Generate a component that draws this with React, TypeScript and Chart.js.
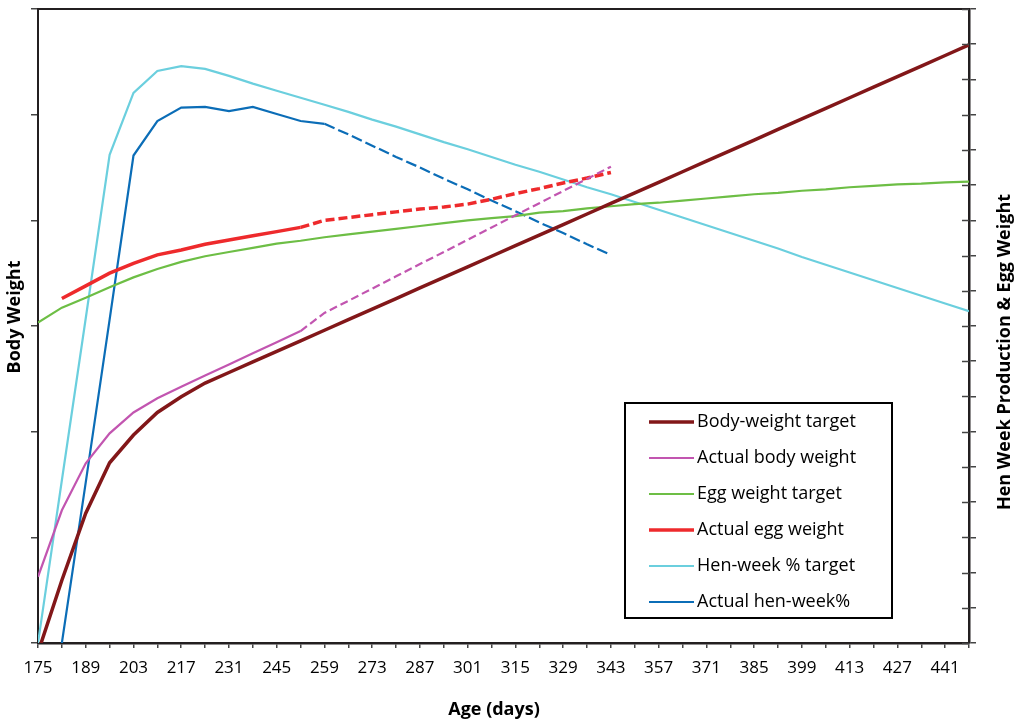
import React, { useEffect, useRef } from 'react';
import { Chart, registerables } from 'chart.js';

Chart.register(...registerables);

// Age in days (weekly)
const ages = [175, 182, 189, 196, 203, 210, 217, 224, 231, 238, 245, 252, 259, 266, 273, 280, 287, 294, 301, 308,
  315, 322, 329, 336, 343, 350, 357, 364, 371, 378, 385, 392, 399, 406, 413, 420, 427, 434, 441, 448];

// Left axis: body weight (g)
const bodyWeightTarget = [-45, 297, 614, 853, 984, 1091, 1165, 1230, 1280, 1330, 1380, 1430, 1480, 1530, 1580, 1630,
  1680, 1730, 1780, 1830, 1880, 1930, 1980, 2030, 2080, 2130, 2180, 2230, 2280, 2330, 2380, 2430, 2480, 2530, 2580,
  2630, 2680, 2730, 2780, 2830];
const actualBodyWeight = [313, 628, 850, 992, 1091, 1158, 1213, 1266, 1318, 1371, 1423, 1476, 1562, 1619, 1677, 1735,
  1793, 1850, 1908, 1966, 2024, 2081, 2139, 2196, 2254, null, null, null, null, null, null, null, null, null, null,
  null, null, null, null, null];

// Right axis: hen-week production (%) and egg weight (g)
const eggWeightTarget = [45.5, 47.6, 49.0, 50.5, 51.9, 53.1, 54.1, 54.9, 55.5, 56.1, 56.7, 57.1, 57.6, 58.0, 58.4,
  58.8, 59.2, 59.6, 60.0, 60.3, 60.6, 61.1, 61.3, 61.7, 62.0, 62.3, 62.5, 62.8, 63.1, 63.4, 63.7, 63.9, 64.2, 64.4,
  64.7, 64.9, 65.1, 65.2, 65.4, 65.5];
const actualEggWeight = [null, 48.9, 50.7, 52.5, 53.9, 55.1, 55.8, 56.6, 57.2, 57.8, 58.4, 59.0, 60.0, 60.4, 60.8,
  61.2, 61.6, 61.9, 62.3, 63.0, 63.8, 64.5, 65.3, 66.0, 66.8, null, null, null, null, null, null, null, null, null,
  null, null, null, null, null, null];
const henWeekTarget = [0, 23.1, 46.1, 69.3, 78.1, 81.2, 81.9, 81.5, 80.5, 79.4, 78.4, 77.4, 76.4, 75.4, 74.3, 73.3,
  72.2, 71.1, 70.1, 69.0, 67.9, 66.9, 65.8, 64.7, 63.7, 62.6, 61.5, 60.4, 59.3, 58.2, 57.1, 56.0, 54.8, 53.7, 52.6,
  51.5, 50.4, 49.3, 48.2, 47.1];
const actualHenWeek = [null, 0, 22.8, 45.9, 69.2, 74.1, 76.0, 76.1, 75.5, 76.1, 75.1, 74.1, 73.7, 72.2, 70.6, 69.0,
  67.5, 65.9, 64.4, 62.8, 61.3, 59.7, 58.2, 56.6, 55.1, null, null, null, null, null, null, null, null, null, null,
  null, null, null, null, null];

const seriesLabels = ['Body-weight target', 'Actual body weight', 'Egg weight target', 'Actual egg weight',
  'Hen-week % target', 'Actual hen-week%'];
const xTitle = 'Age (days)';
const yLeftTitle = 'Body Weight';
const yRightTitle = 'Hen Week Production & Egg Weight';

const FONT = "'Open Sans', 'Noto Sans', sans-serif";
const INK = '#231F20';

const decorPlugin = {
  id: 'decor',
  afterDraw(chart: any) {
    const ctx = chart.ctx as CanvasRenderingContext2D;
    const ca = chart.chartArea;
    ctx.save();
    // top frame line
    ctx.strokeStyle = INK;
    ctx.lineWidth = 2;
    ctx.beginPath();
    ctx.moveTo(ca.left - 1, ca.top);
    ctx.lineTo(ca.right + 1, ca.top);
    ctx.stroke();
    // inner tick halves on right axis
    const y2 = chart.scales.y2;
    ctx.lineWidth = 1.5;
    ctx.strokeStyle = '#444';
    y2.ticks.forEach((t: any) => {
      const py = Math.round(y2.getPixelForValue(t.value)) + 0.5;
      ctx.beginPath();
      ctx.moveTo(ca.right - 7, py);
      ctx.lineTo(ca.right, py);
      ctx.stroke();
    });
    // axis titles
    ctx.fillStyle = '#000';
    ctx.font = `bold 18px ${FONT}`;
    ctx.textAlign = 'center';
    ctx.textBaseline = 'middle';
    ctx.fillText(xTitle, 494, 710);
    ctx.save();
    ctx.translate(15, 317);
    ctx.rotate(-Math.PI / 2);
    ctx.fillText(yLeftTitle, 0, 0);
    ctx.restore();
    ctx.save();
    ctx.translate(1005, 352);
    ctx.rotate(-Math.PI / 2);
    ctx.fillText(yRightTitle, 0, 0);
    ctx.restore();
    // legend box
    const bx = 625, by = 403, bw = 267, bh = 215;
    ctx.fillStyle = '#fff';
    ctx.fillRect(bx, by, bw, bh);
    ctx.strokeStyle = '#000';
    ctx.lineWidth = 2;
    ctx.strokeRect(bx, by, bw, bh);
    ctx.font = `18px ${FONT}`;
    ctx.textAlign = 'left';
    chart.data.datasets.forEach((ds: any, i: number) => {
      const ry = 422 + i * 36;
      ctx.strokeStyle = ds.borderColor;
      ctx.lineWidth = ds.borderWidth;
      ctx.setLineDash([]);
      ctx.beginPath();
      ctx.moveTo(649, ry);
      ctx.lineTo(694, ry);
      ctx.stroke();
      ctx.fillStyle = '#000';
      ctx.fillText(ds.label, 697, ry);
    });
    ctx.restore();
  },
};

export default function App() {
  const ref = useRef<HTMLCanvasElement>(null);
  useEffect(() => {
    document.body.style.margin = '0';
    const pts = (vals: (number | null)[]) => ages.map((a, i) => ({ x: a, y: vals[i] }));
    const dashAfter = (from: number, dash: number[]) => (c: any) => (c.p0.parsed.x >= from ? dash : undefined);
    const chart = new Chart(ref.current as HTMLCanvasElement, {
      type: 'line',
      data: {
        datasets: [
          { label: seriesLabels[0], data: pts(bodyWeightTarget), borderColor: '#821719', borderWidth: 3.5, yAxisID: 'y', clip: 0 },
          { label: seriesLabels[1], data: pts(actualBodyWeight), borderColor: '#C255B0', borderWidth: 2.2, yAxisID: 'y',
            segment: { borderDash: dashAfter(252, [8, 4]) } },
          { label: seriesLabels[2], data: pts(eggWeightTarget), borderColor: '#6DBE45', borderWidth: 2.2, yAxisID: 'y2' },
          { label: seriesLabels[3], data: pts(actualEggWeight), borderColor: '#EE2A2C', borderWidth: 3.5, yAxisID: 'y2',
            segment: { borderDash: dashAfter(252, [9, 4]) } },
          { label: seriesLabels[4], data: pts(henWeekTarget), borderColor: '#6BCFDE', borderWidth: 2.2, yAxisID: 'y2', clip: 0 },
          { label: seriesLabels[5], data: pts(actualHenWeek), borderColor: '#0B6DB7', borderWidth: 2.2, yAxisID: 'y2', clip: 0,
            segment: { borderDash: dashAfter(259, [11, 4]) } },
        ] as any,
      },
      options: {
        responsive: false,
        animation: false,
        devicePixelRatio: 1,
        layout: { padding: { top: 9, left: 0, right: 0, bottom: 0 } },
        elements: { point: { radius: 0 }, line: { tension: 0 } },
        plugins: { legend: { display: false }, tooltip: { enabled: false }, title: { display: false } },
        scales: {
          x: {
            type: 'linear',
            min: 175,
            max: 448,
            ticks: {
              stepSize: 7,
              autoSkip: false,
              maxRotation: 0,
              color: '#000',
              font: { family: FONT, size: 17 },
              padding: 10,
              callback: (v: any) => ((v - 175) % 14 === 0 ? String(v) : ''),
            },
            grid: { drawOnChartArea: false, tickLength: 5, color: '#444', lineWidth: 1.5 },
            border: { color: INK, width: 2.5 },
            afterFit: (s: any) => { s.height = 78; },
          },
          y: {
            position: 'left',
            min: 0,
            max: 3000,
            ticks: { stepSize: 500, display: false },
            grid: { drawOnChartArea: false, tickLength: 7, color: '#444', lineWidth: 1.5 },
            border: { color: INK, width: 2 },
            afterFit: (s: any) => { s.width = 38; },
          },
          y2: {
            position: 'right',
            min: 0,
            max: 90,
            ticks: { stepSize: 5, display: false },
            grid: { drawOnChartArea: false, tickLength: 7, color: '#444', lineWidth: 1.5 },
            border: { color: INK, width: 2.5 },
            afterFit: (s: any) => { s.width = 46; },
          },
        },
      } as any,
      plugins: [decorPlugin],
    });
    return () => chart.destroy();
  }, []);
  return (
    <div style={{ position: 'absolute', left: 0, top: 0, width: 1015, height: 721 }}>
      <canvas ref={ref} width={1015} height={721} style={{ display: 'block' }} />
    </div>
  );
}
